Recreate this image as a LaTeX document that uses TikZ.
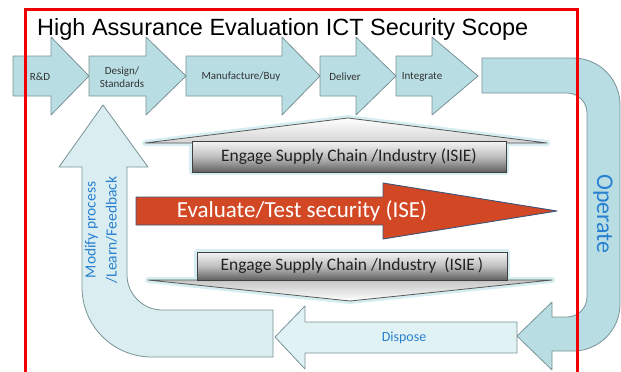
\documentclass[tikz,border=0pt]{standalone}
\usepackage{fontspec}
\setmainfont{Carlito}
\newfontfamily\titlefont{Liberation Sans}
\definecolor{rowfill}{RGB}{184,222,228}
\definecolor{rowedge}{RGB}{120,146,150}
\definecolor{palefill}{RGB}{218,238,241}
\definecolor{disposefill}{RGB}{225,242,244}
\definecolor{labelblue}{RGB}{40,128,208}
\definecolor{evalred}{RGB}{210,72,36}
\definecolor{evaledge}{RGB}{62,84,122}
\definecolor{glow}{RGB}{214,237,242}
\definecolor{framered}{RGB}{240,0,0}
\definecolor{boxtext}{RGB}{34,34,34}
\begin{document}
\begin{tikzpicture}[x=1pt,y=-1pt,
  flow/.style={fill=rowfill,draw=rowedge,line width=0.8pt,line join=round},
  paleflow/.style={fill=palefill,draw=rowedge,line width=0.8pt,line join=round},
  rowtext/.style={font=\fontsize{11}{13}\selectfont,text=black!80,align=center,inner sep=0},
  bluetext/.style={text=labelblue,inner sep=0,align=center},
  halo/.style={draw=glow,line width=6pt,line join=round},
  metalbox/.style={top color=black!4,bottom color=black!62,middle color=black!25,draw=black!75,line width=0.9pt},
  boxlabel/.style={font=\fontsize{17.5}{20}\selectfont,text=boxtext,inner sep=0},
]
\useasboundingbox (0,0) rectangle (621,372);

% process chain along the top
\foreach \a/\b/\c in {13/51/89, 89/146/186, 186/282/320, 320/356/396, 396/432/478}
  \draw[flow] (\a,56) -- (\b,56) -- (\b,37) -- (\c,76) -- (\b,115) -- (\b,96) -- (\a,96) -- cycle;

% operate: bent arrow down the right side
\draw[flow] (482,58) -- (573,58) .. controls (599,58) and (620,79) .. (620,105)
  -- (620,304) .. controls (620,330) and (599,351) .. (573,351)
  -- (552,351) -- (552,370) -- (517,336) -- (552,302) -- (552,317)
  -- (567,317) .. controls (578,317) and (587,308) .. (587,297)
  -- (587,113) .. controls (587,102) and (578,93) .. (567,93)
  -- (482,93) -- cycle;

% dispose
\draw[paleflow,fill=disposefill] (517,322) -- (305,322) -- (305,306) -- (275,337)
  -- (305,369) -- (305,353) -- (517,353) -- cycle;

% feedback loop back up to design
\draw[paleflow] (103,105) -- (148,167) -- (127,167) -- (127,275)
  .. controls (127,294) and (143,310) .. (162,310) -- (273,310) -- (273,357)
  -- (152,357) .. controls (113,357) and (82,326) .. (82,287)
  -- (82,167) -- (59,167) -- cycle;

% upper supply chain arrow
\draw[halo] (145,143) -- (348,118) -- (547,143) -- cycle;
\draw[halo] (192,141) rectangle (506,172);
\draw[top color=white,bottom color=gray!35,draw=black!65,line width=0.8pt,line join=round]
  (145,143) -- (348,118) -- (547,143) -- cycle;
\draw[metalbox] (192,141) rectangle (506,172);
\node[boxlabel] (isieup) at (349,157) {Engage Supply Chain /Industry (ISIE)};

% lower supply chain arrow
\draw[halo] (148,280) -- (350,301) -- (552,280) -- cycle;
\draw[halo] (197,252) rectangle (507,280);
\draw[top color=gray!45,bottom color=white,draw=black!65,line width=0.8pt,line join=round]
  (148,280) -- (350,301) -- (552,280) -- cycle;
\draw[metalbox] (197,252) rectangle (507,280);
\node[boxlabel] (isiedown) at (352,266) {Engage Supply Chain /Industry\ \ (ISIE\,)};

% evaluation arrow
\draw[fill=evalred,draw=evaledge,line width=0.9pt,line join=round]
  (136,197) -- (383,197) -- (383,183) -- (557,211) -- (383,239) -- (383,225) -- (136,225) -- cycle;
\node[font=\fontsize{23}{26}\selectfont,text=white,inner sep=0] (evaluate) at (302,211) {Evaluate/Test security (ISE)};

% labels of the process chain
\node[rowtext] (rd) at (40,77) {R\&D};
\node[rowtext] (design) at (122,77) {Design/\\Standards};
\node[rowtext] (manuf) at (241,77) {Manufacture/Buy};
\node[rowtext] (deliver) at (345,77) {Deliver};
\node[rowtext] (integrate) at (422,77) {Integrate};

\node[bluetext,rotate=-90,font=\fontsize{24}{26}\selectfont] (operate) at (603,214) {Operate};
\node[bluetext,font=\fontsize{14}{16}\selectfont] (dispose) at (404,338) {Dispose};
\node[bluetext,rotate=90,font=\fontsize{15.5}{21}\selectfont] (modify) at (101,230) {Modify process\\/Learn/Feedback};

% scope frame and heading
\draw[framered,line width=3pt,line join=miter] (25,372) -- (25,9) -- (577,9) -- (577,372);
\node[anchor=base west,font=\titlefont\fontsize{23.5}{26}\selectfont,inner sep=0] (title) at (37,35)
  {High Assurance Evaluation ICT Security Scope};
\end{tikzpicture}
\end{document}
